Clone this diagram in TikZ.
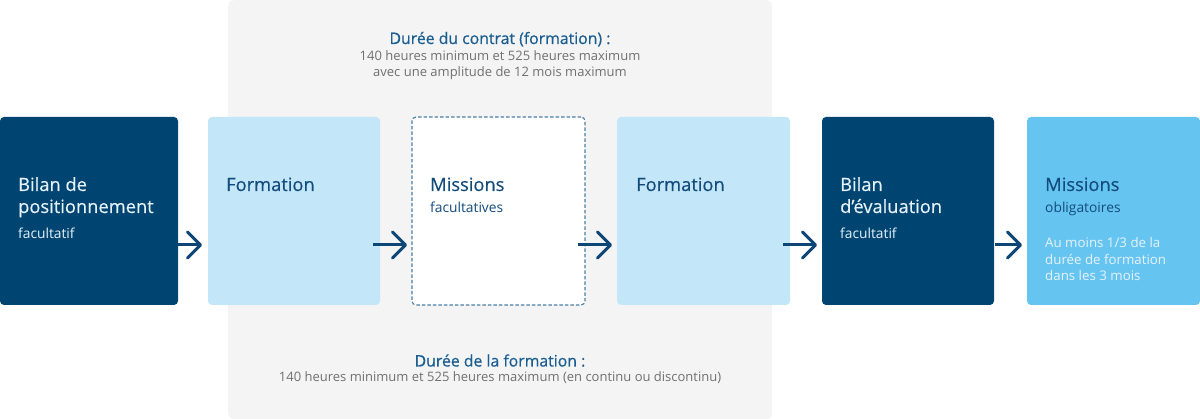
\documentclass[tikz,border=0pt]{standalone}
\usepackage{fontspec}
\setmainfont{Open Sans}
\newfontfamily\semib[FakeBold=0.7]{Open Sans}
\newfontfamily\medium[FakeBold=0.3]{Open Sans}
\usetikzlibrary{arrows.meta,calc}
\definecolor{darkbox}{HTML}{004471}
\definecolor{lightbox}{HTML}{C3E6F8}
\definecolor{skybox}{HTML}{66C5F0}
\definecolor{panelgrey}{HTML}{F4F4F4}
\definecolor{dashcol}{HTML}{4A7EA8}
\definecolor{arrowcol}{HTML}{0E4676}
\definecolor{headcol}{HTML}{1B5E91}
\definecolor{subgrey}{HTML}{707070}
\definecolor{navytext}{HTML}{124C7C}
\definecolor{palewhite}{HTML}{E6F2FA}
\tikzset{
  box/.style={rectangle, rounded corners=4pt, minimum width=173pt, minimum height=188pt,
    inner sep=0pt, outer sep=0pt, anchor=north west},
  boxdark/.style={box, fill=darkbox},
  boxlight/.style={box, fill=lightbox},
  boxsky/.style={box, fill=skybox},
  boxdash/.style={box, fill=white, draw=dashcol, line width=1.1pt, dash pattern=on 3.5pt off 2pt},
  ttl/.style={anchor=base west, inner sep=0pt, font=\medium\fontsize{18.3}{22}\selectfont},
  sub/.style={anchor=base west, inner sep=0pt, font=\fontsize{13.8}{16}\selectfont},
  small/.style={anchor=base west, inner sep=0pt, font=\fontsize{13.3}{16}\selectfont},
  headtxt/.style={anchor=base, inner sep=0pt, text=headcol, font=\semib\fontsize{15.8}{18}\selectfont},
  greytxt/.style={anchor=base, inner sep=0pt, text=subgrey, font=\fontsize{13}{16}\selectfont},
  arr/.style={draw=arrowcol, line width=3pt, -{Straight Barb[round, length=13pt, width=26pt]}},
}
\begin{document}
\begin{tikzpicture}[x=1pt,y=-1pt]
\useasboundingbox (0,0) rectangle (1200,419);
% panel
\node[rectangle, rounded corners=6pt, fill=panelgrey, minimum width=544pt, minimum height=419pt,
  inner sep=0pt, anchor=north west] (panel) at (228,0) {};
% boxes
\node[boxdark, minimum width=178pt] (b1) at (0,117) {};
\node[boxlight, minimum width=172pt] (b2) at (208,117) {};
\node[boxdash] (b3) at (412,117) {};
\node[boxlight] (b4) at (617,117) {};
\node[boxdark, minimum width=172pt] (b5) at (822,117) {};
\node[boxsky, minimum width=173pt] (b6) at (1027,117) {};
% texts box 1
\node[ttl, text=palewhite] (t1a) at (18,191) {Bilan de};
\node[ttl, text=palewhite] (t1b) at (18,213) {positionnement};
\node[sub, text=palewhite] (t1c) at (18,239) {facultatif};
% box 2
\node[ttl, text=navytext] (t2a) at (226,191) {Formation};
% box 3
\node[ttl, text=navytext] (t3a) at (430,191) {Missions};
\node[sub, text=navytext] (t3b) at (430,213) {facultatives};
% box 4
\node[ttl, text=navytext] (t4a) at (636,191) {Formation};
% box 5
\node[ttl, text=palewhite] (t5a) at (840,191) {Bilan};
\node[ttl, text=palewhite] (t5b) at (840,213) {d’évaluation};
\node[sub, text=palewhite] (t5c) at (840,239) {facultatif};
% box 6
\node[ttl, text=navytext] (t6a) at (1045,191) {Missions};
\node[sub, text=navytext] (t6b) at (1045,213) {obligatoires};
\node[small, text=palewhite] (t6c) at (1045,248) {Au moins 1/3 de la};
\node[small, text=palewhite] (t6d) at (1045,264.5) {durée de formation};
\node[small, text=palewhite] (t6e) at (1045,281) {dans les 3 mois};
% top text
\node[headtxt] (h1) at (500,44) {Durée du contrat (formation) :};
\node[greytxt] (h2) at (500,61) {140 heures minimum et 525 heures maximum};
\node[greytxt] (h3) at (500,77) {avec une amplitude de 12 mois maximum};
% bottom text
\node[headtxt] (f1) at (500,366.5) {Durée de la formation :};
\node[greytxt] (f2) at (500,382) {140 heures minimum et 525 heures maximum (en continu ou discontinu)};
% arrows
\draw[arr] ($(b1.east)+(0,34)$) -- ($(b2.west)+(-6,34)$);
\draw[arr] ($(b2.east)+(-7,34)$) -- ($(b3.west)+(-5,34)$);
\draw[arr] ($(b3.east)+(-7,34)$) -- ($(b4.west)+(-5,34)$);
\draw[arr] ($(b4.east)+(-7,34)$) -- ($(b5.west)+(-5,34)$);
\draw[arr] ($(b5.east)+(1,34)$) -- ($(b6.west)+(-5,34)$);
\end{tikzpicture}
\end{document}
